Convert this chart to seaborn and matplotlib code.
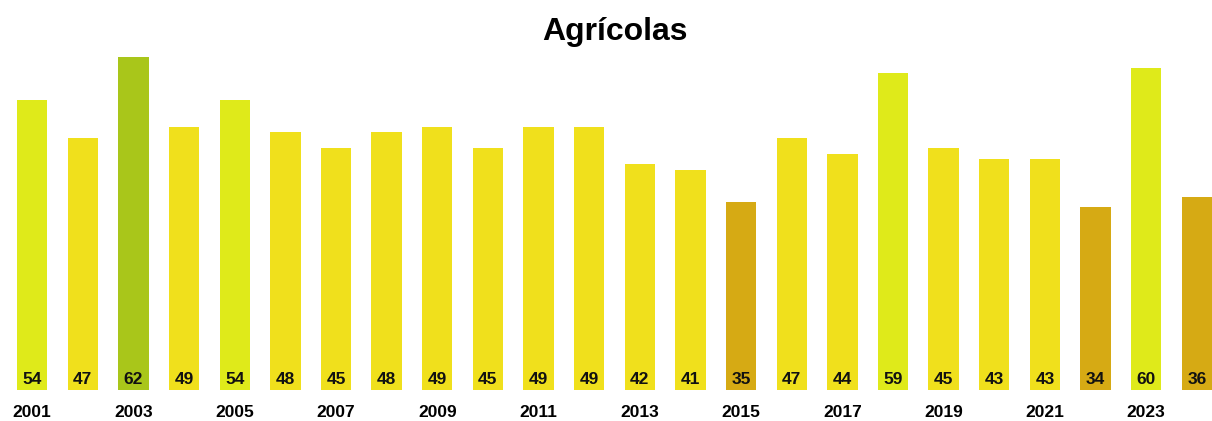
import matplotlib
matplotlib.use("Agg")
import matplotlib.pyplot as plt
import seaborn as sns
import pandas as pd

years = list(range(2001, 2025))
values = [54, 47, 62, 49, 54, 48, 45, 48, 49, 45, 49, 49, 42, 41, 35, 47, 44, 59, 45, 43, 43, 34, 60, 36]

def bar_color(v):
    if v >= 62:
        return "#a9c61a"
    if v >= 50:
        return "#dfea1a"
    if v >= 38:
        return "#f0e01c"
    return "#d6aa14"

df = pd.DataFrame({"year": [str(y) for y in years], "value": values})
colors = [bar_color(v) for v in values]

sns.set_style("white")
plt.rcParams["font.family"] = ["Liberation Sans", "DejaVu Sans"]
fig = plt.figure(figsize=(12.12, 4.21), dpi=100)
ax = fig.add_axes([17 / 1212, 31 / 421, 1195 / 1212, 333 / 421])
sns.barplot(data=df, x="year", y="value", hue="year", palette=colors, legend=False,
            width=0.6, saturation=1, linewidth=0, ax=ax)
ax.set_xlim(-0.3, 23.3)
ax.set_ylim(0, 62)
for i, v in enumerate(values):
    ax.text(i, 1.9, str(v), ha="center", va="center", fontsize=12.5, fontweight="bold", color="#111111")
ax.set_xticks(range(0, 24, 2))
ax.set_xticklabels([str(y) for y in years[::2]], fontsize=12.5, fontweight="bold", color="black")
ax.tick_params(axis="x", length=0, pad=11)
ax.set_yticks([])
ax.set_xlabel("")
ax.set_ylabel("")
sns.despine(ax=ax, left=True, bottom=True)
fig.text(0.507, 0.925, "Agrícolas", ha="center", va="center", fontsize=23, fontweight="bold", color="black")
fig.savefig("out.png", dpi=100)
